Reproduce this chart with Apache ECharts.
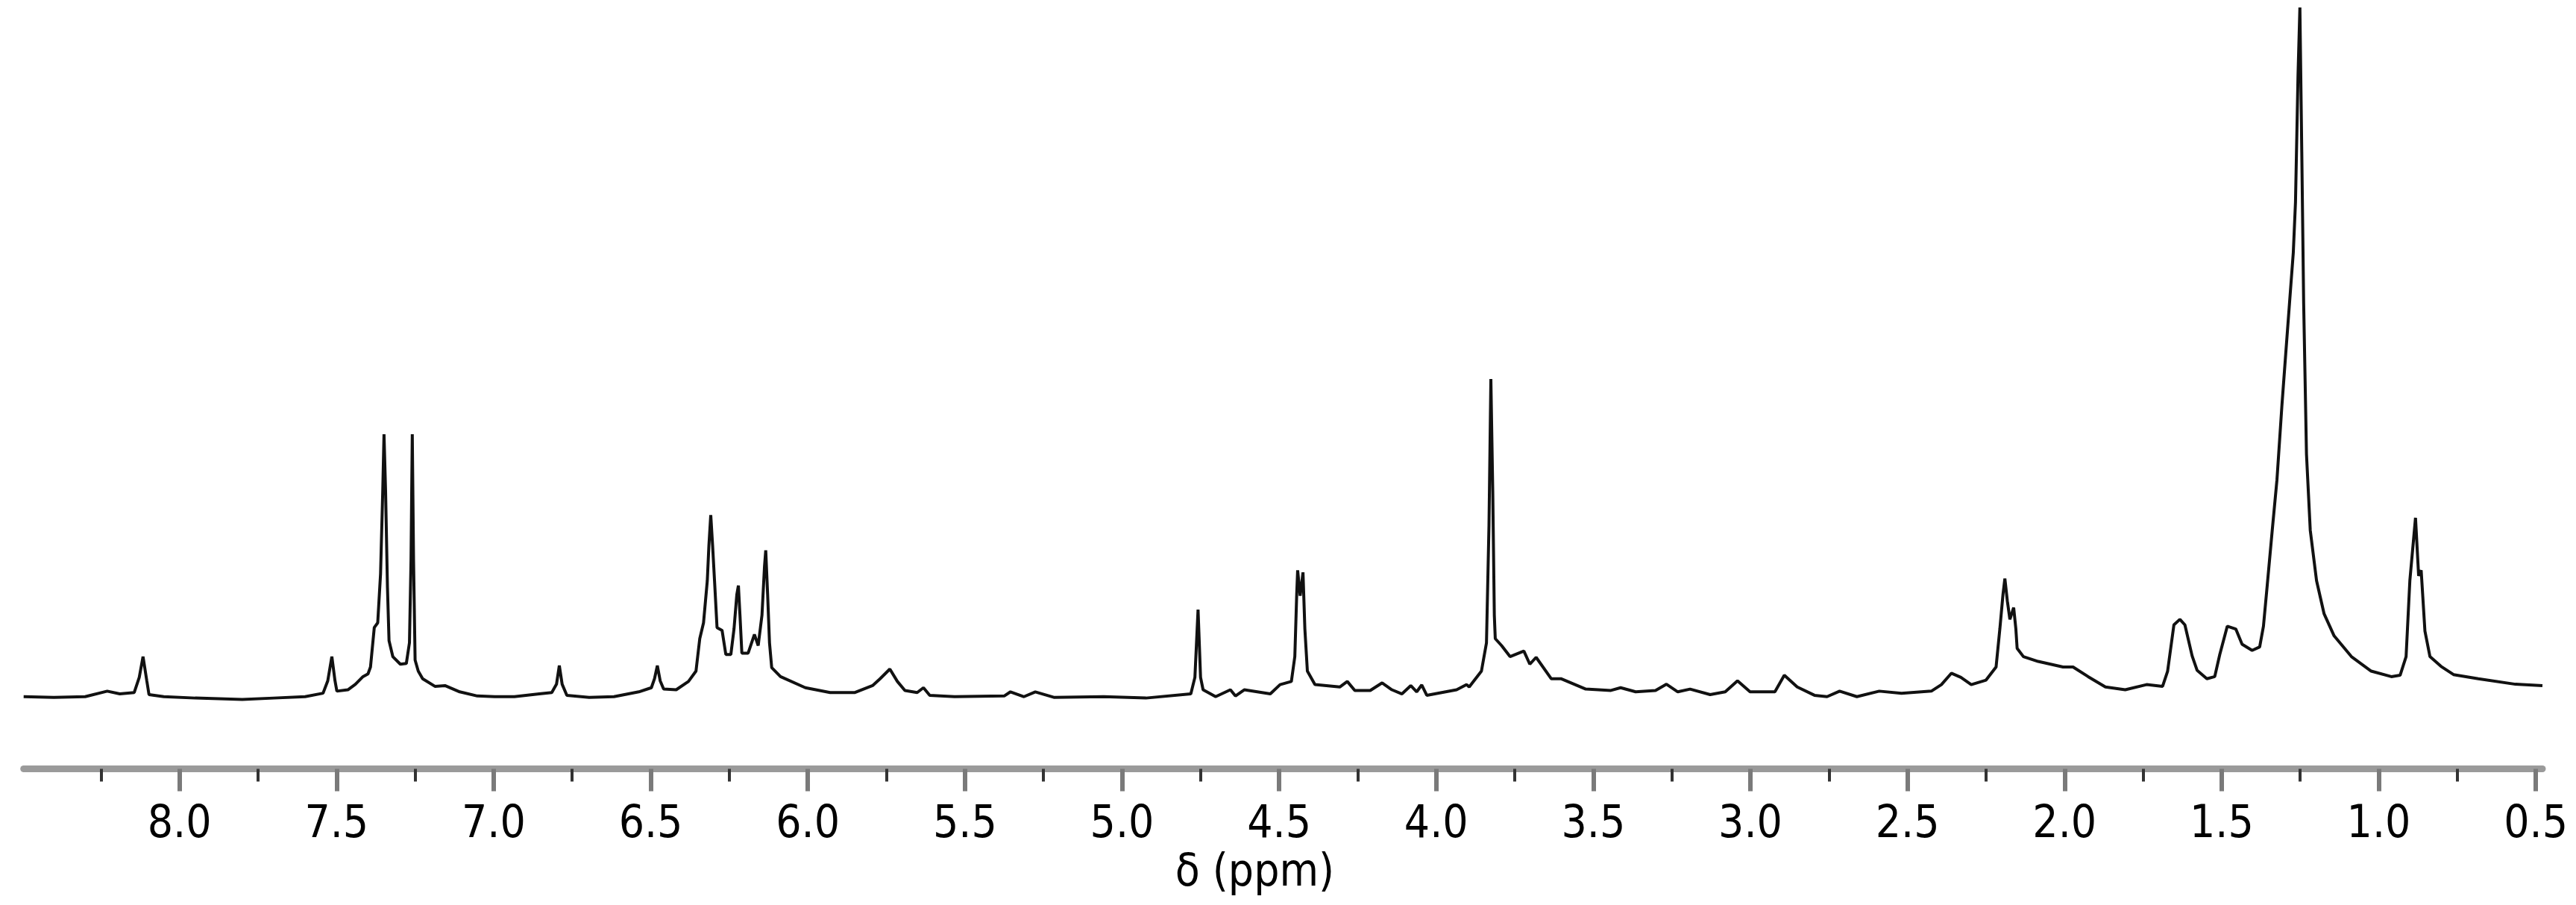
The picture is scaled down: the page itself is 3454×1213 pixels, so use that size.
<!DOCTYPE html>
<html>
<head>
<meta charset="utf-8">
<script src="https://cdn.jsdelivr.net/npm/echarts@6/dist/echarts.min.js"></script>
<style>
html,body{margin:0;padding:0;background:#fff;}
#chart{width:3454px;height:1213px;}
</style>
</head>
<body>
<div id="chart"></div>
<script>
// chemical shift (ppm), descending
var shiftPpm = [
8.496,8.40,8.30,8.23,8.19,8.144,8.128,8.116,8.104,8.097,8.05,7.95,7.80,7.70,7.60,
7.543,7.528,7.515,7.505,7.499,7.464,7.44,7.416,7.40,7.392,7.380,7.369,7.360,7.353,7.349,7.344,7.338,7.333,7.321,7.297,
7.278,7.268,7.263,7.259,7.255,7.250,7.240,7.226,7.187,7.155,7.108,7.052,6.997,6.934,6.855,6.815,6.800,6.791,6.782,6.767,
6.696,6.617,6.538,6.498,6.488,6.479,6.470,6.459,6.419,6.380,6.356,6.344,6.332,6.320,6.315,6.309,6.303,6.297,6.289,6.273,
6.261,6.245,6.235,6.226,6.221,6.216,6.210,6.190,6.170,6.158,6.146,6.138,6.134,6.128,6.122,6.115,6.087,6.008,5.929,5.850,
5.794,5.770,5.739,5.715,5.691,5.652,5.632,5.612,5.533,5.375,5.355,5.312,5.276,5.217,5.058,4.924,4.781,4.768,4.758,4.750,
4.742,4.702,4.655,4.639,4.611,4.528,4.497,4.461,4.450,4.444,4.441,4.433,4.424,4.418,4.410,4.386,4.307,4.283,4.259,4.210,
4.172,4.141,4.109,4.081,4.062,4.046,4.030,3.935,3.903,3.895,3.856,3.840,3.832,3.826,3.820,3.815,3.812,3.792,3.765,3.721,
3.702,3.682,3.634,3.603,3.524,3.444,3.413,3.365,3.302,3.267,3.231,3.192,3.128,3.080,3.041,3.001,2.922,2.892,2.851,2.796,
2.756,2.716,2.661,2.590,2.519,2.424,2.392,2.360,2.330,2.297,2.250,2.218,2.206,2.196,2.190,2.182,2.174,2.162,2.155,2.151,
2.131,2.084,2.005,1.973,1.925,1.870,1.807,1.739,1.688,1.672,1.652,1.633,1.617,1.594,1.578,1.547,1.522,1.506,1.482,1.455,
1.435,1.403,1.379,1.367,1.355,1.339,1.324,1.308,1.296,1.284,1.272,1.265,1.257,1.251,1.245,1.239,1.230,1.218,1.198,1.174,
1.142,1.087,1.024,0.960,0.932,0.913,0.901,0.883,0.873,0.865,0.853,0.837,0.802,0.762,0.683,0.565,0.479
];
// relative intensity (tallest peak = 100)
var intensity = [
0.2,0.1,0.2,1.0,0.6,0.8,3.0,6.0,2.5,0.5,0.2,0.0,-0.2,0.0,0.2,
0.7,2.5,6.0,2.5,1.0,1.2,2.0,3.1,3.5,4.5,10.2,10.9,18.0,30.0,38.2,30.0,16.0,8.3,6.0,4.9,
5.0,8.0,20.0,38.2,20.0,5.5,3.9,2.8,1.7,1.8,0.9,0.3,0.2,0.2,0.6,0.8,2.0,4.7,2.0,0.4,
0.1,0.2,0.9,1.5,2.8,4.7,2.5,1.3,1.2,2.4,3.9,8.6,10.9,17.0,22.0,26.5,22.0,17.0,10.2,9.8,
6.3,6.3,10.0,15.0,16.3,12.0,6.5,6.5,9.2,7.6,12.0,19.0,21.4,15.0,8.0,4.4,3.1,1.5,0.8,0.8,
1.8,2.8,4.2,2.4,1.1,0.8,1.5,0.4,0.2,0.3,0.9,0.2,0.9,0.1,0.2,0.0,0.6,3.0,12.8,3.0,
1.2,0.2,1.2,0.3,1.2,0.6,1.95,2.4,6.0,15.0,18.5,14.8,18.2,10.0,3.9,1.95,1.6,2.4,1.1,1.1,
2.2,1.2,0.6,1.8,0.9,1.9,0.4,1.2,1.95,1.6,3.9,8.0,25.0,46.2,30.0,12.0,8.6,7.6,6.0,6.8,
4.9,5.9,2.8,2.8,1.3,1.1,1.5,0.9,1.1,2.0,0.9,1.3,0.5,0.9,2.5,0.9,0.9,3.3,1.6,0.4,
0.2,1.0,0.2,1.0,0.7,1.0,1.95,3.6,3.0,1.95,2.6,4.5,10.0,15.0,17.3,14.0,11.4,13.1,10.0,7.2,
6.0,5.3,4.5,4.5,3.1,1.6,1.2,1.95,1.7,3.9,10.6,11.4,10.6,6.1,4.0,2.8,3.1,6.3,10.4,10.0,
7.8,6.9,7.4,10.4,16.3,24.3,31.6,42.5,49.9,57.2,64.5,71.8,90.1,100,79.1,57.2,35.3,24.3,17.0,12.2,
9.0,6.0,3.9,3.1,3.3,6.0,17.0,26.1,17.7,18.5,9.7,6.0,4.6,3.4,2.8,2.0,1.8
];
// axis ticks
var majorTicks = [8.0,7.5,7.0,6.5,6.0,5.5,5.0,4.5,4.0,3.5,3.0,2.5,2.0,1.5,1.0,0.5];
var minorTicks = [8.25,7.75,7.25,6.75,6.25,5.75,5.25,4.75,4.25,3.75,3.25,2.75,2.25,1.75,1.25,0.75];
var axisMin = 0.479, axisMax = 8.496;
var axisTitle = 'δ (ppm)';

var lineData = shiftPpm.map(function (p, i) { return [p, intensity[i]]; });
var fontFam = "'Liberation Sans Narrow', 'DejaVu Sans Condensed', 'Liberation Sans', sans-serif";

var chart = echarts.init(document.getElementById('chart'), null, {renderer: 'canvas'});
chart.setOption({
  animation: false,
  backgroundColor: '#ffffff',
  grid: {left: 31.7, right: 45, top: 10, bottom: 182.5, containLabel: false},
  xAxis: [
    {
      type: 'value', min: axisMin, max: axisMax, inverse: true, position: 'bottom', offset: 0,
      splitLine: {show: false},
      axisLine: {show: true, onZero: false, lineStyle: {color: '#9a9a9a', width: 9}},
      axisTick: {show: true, customValues: majorTicks, length: 30, lineStyle: {color: '#7a7a7a', width: 6}},
      axisLabel: {
        show: true, customValues: majorTicks, margin: 46,
        fontFamily: fontFam, fontSize: 60, color: '#000',
        formatter: function (v) { return Number(v).toFixed(1); }
      },
      name: axisTitle, nameLocation: 'middle', nameGap: 105,
      nameTextStyle: {fontFamily: fontFam, fontSize: 60, color: '#000', padding: [0, 76, 0, 0]}
    },
    {
      type: 'value', min: axisMin, max: axisMax, inverse: true, position: 'bottom', offset: 0,
      splitLine: {show: false},
      axisLine: {show: false, onZero: false},
      axisTick: {show: true, customValues: minorTicks, length: 17, lineStyle: {color: '#333', width: 4}},
      axisLabel: {show: false}
    }
  ],
  yAxis: {
    type: 'value', min: -10.25, max: 100, show: false, splitLine: {show: false}
  },
  series: [{
    type: 'line', xAxisIndex: 0, data: lineData, showSymbol: false, symbol: 'none',
    smooth: false, clip: false,
    lineStyle: {color: '#111', width: 4}
  }]
});
</script>
</body>
</html>
